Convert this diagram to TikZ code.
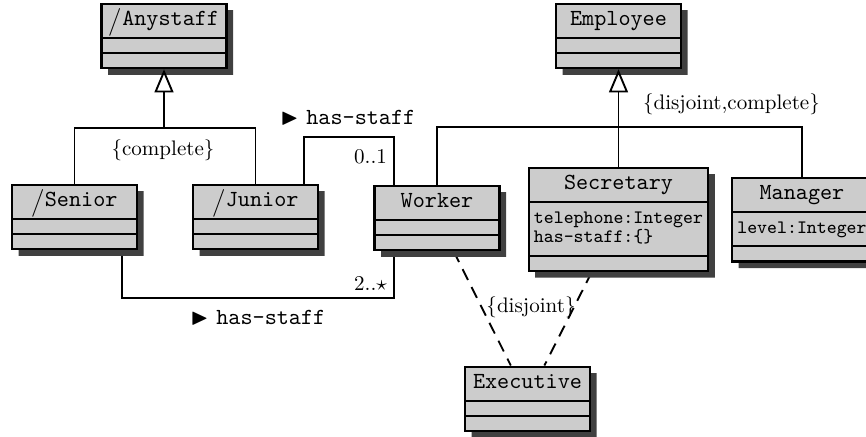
\documentclass[tikz,border=0pt,11pt]{standalone}
\usepackage{amsmath,amssymb}
\usepackage{tikz}
\usetikzlibrary{shapes,arrows.meta,positioning,calc,shadows,backgrounds}
\usepackage{xcolor}

\tikzset{
  umlclass/.style={rectangle split, rectangle split parts=3,
    rectangle split ignore empty parts=false,
    rectangle split part align={center,left,left},
    draw, line width=1pt, fill=black!20, minimum width=59.4pt,
    inner xsep=2.5pt, inner ysep=3pt, font=\normalsize\ttfamily,
    drop shadow={shadow xshift=3.1pt, shadow yshift=-3.1pt, fill=black!75, opacity=1}},
  gen/.style={line width=0.9pt, -{Triangle[fill=white,length=11pt,width=9pt]}},
  link/.style={line width=0.9pt},
  dep/.style={line width=0.9pt, dash pattern=on 5.7pt off 3.8pt},
}
\newcommand{\cname}[1]{\vphantom{Ay}#1}
\newcommand{\dname}[1]{\vphantom{Ay}\smash{\raisebox{-1.4pt}{$\big/$}}#1}
\newcommand{\nopart}{\rule{0pt}{0.2pt}}
\newcommand{\attrs}[1]{{\footnotesize\def\arraystretch{0.85}\begin{tabular}{@{}l@{}}#1\end{tabular}}}
\newcommand{\role}[1]{{\normalsize$\blacktriangleright$ \texttt{#1}}}

\begin{document}
\begin{tikzpicture}[x=0.475pt,y=-0.475pt,font=\small]
\useasboundingbox (0,0) rectangle (866,436);

\node[umlclass,anchor=north] (anystaff) at (164,2.5)
  {\dname{Anystaff}\nodepart{two}\nopart\nodepart{three}\nopart};
\node[umlclass,anchor=north] (employee) at (618.5,2.5)
  {\cname{Employee}\nodepart{two}\nopart\nodepart{three}\nopart};
\node[umlclass,anchor=north] (senior) at (74.5,183.5)
  {\dname{Senior}\nodepart{two}\nopart\nodepart{three}\nopart};
\node[umlclass,anchor=north] (junior) at (255.5,183.5)
  {\dname{Junior}\nodepart{two}\nopart\nodepart{three}\nopart};
\node[umlclass,anchor=north] (worker) at (437,184.5)
  {\cname{Worker}\nodepart{two}\nopart\nodepart{three}\nopart};
\node[umlclass,anchor=north] (secretary) at (618.5,166.5)
  {\cname{Secretary}\nodepart{two}\attrs{telephone:Integer\\has-staff:\{\}}\nodepart{three}\nopart};
\node[umlclass,anchor=north west] (manager) at (731,176.5)
  {\cname{Manager}\nodepart{two}\attrs{level:Integer}\nodepart{three}\nopart};
\node[umlclass,anchor=north] (executive) at (527.5,365.5)
  {\cname{Executive}\nodepart{two}\nopart\nodepart{three}\nopart};

\coordinate (abar) at (164,128);
\coordinate (ebar) at (618.5,127);
\coordinate (hsa) at (304,137);
\coordinate (hsb) at (394,137);
\coordinate (hsc) at (122,298);
\coordinate (hsd) at (394,298);

\begin{scope}[on background layer]
\draw[link] (senior.north) |- (abar) -| (junior.north);
\draw[link] (worker.north) |- (ebar) -| (manager.north);
\draw[link] (junior.north -| hsa) -- (hsa) -- (hsb) -- (worker.north -| hsb);
\draw[link] (senior.south -| hsc) -- (hsc) -- (hsd) -- (worker.south -| hsd);
\draw[dep] (worker) -- (executive);
\draw[dep] (secretary) -- (executive);
\end{scope}
\draw[gen] (abar) -- (anystaff.south);
\draw[gen] (secretary.north) -- (employee.south);

\node (complete) at (163,150) {\{complete\}};
\node[anchor=west] (djcomplete) at (635,104) {\{disjoint,complete\}};
\node (disjoint) at (531,307) {\{disjoint\}};
\node[anchor=east] (multtop) at (395,157) {0..1};
\node[anchor=east] (multbot) at (395,283) {2..$\star$};
\node (roletop) at (348,118) {\role{has-staff}};
\node (rolebot) at (258,318) {\role{has-staff}};
\end{tikzpicture}
\end{document}
